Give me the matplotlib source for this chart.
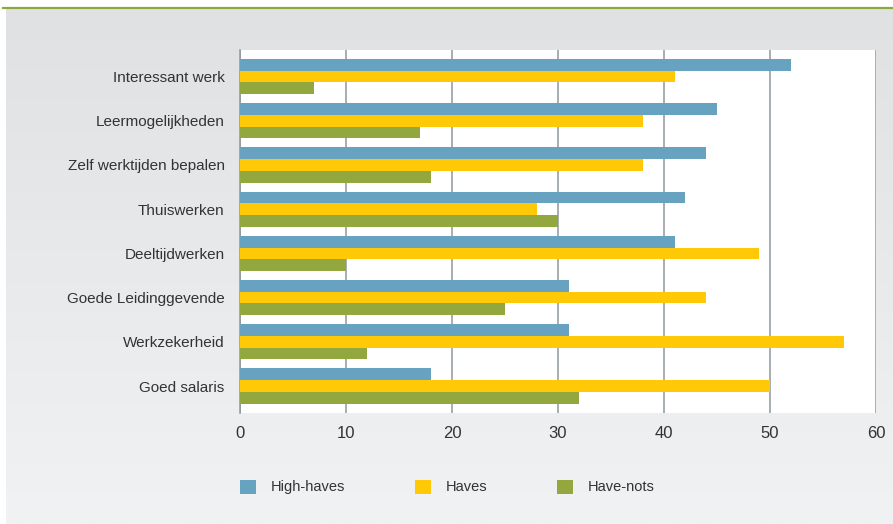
import matplotlib as mpl
mpl.use('Agg')
import matplotlib.pyplot as plt
from matplotlib.lines import Line2D
from matplotlib.patches import Patch
import numpy as np

plt.rcParams['font.family'] = ['Liberation Sans', 'DejaVu Sans']

# Data
categories = ['Interessant werk', 'Leermogelijkheden', 'Zelf werktijden bepalen',
              'Thuiswerken', 'Deeltijdwerken', 'Goede Leidinggevende',
              'Werkzekerheid', 'Goed salaris']
high_haves = [52, 45, 44, 42, 41, 31, 31, 18]
haves = [41, 38, 38, 28, 49, 44, 57, 50]
have_nots = [7, 17, 18, 30, 10, 25, 12, 32]

series_names = ['High-haves', 'Haves', 'Have-nots']
colors = ['#67a2c1', '#ffc908', '#92a83e']
xticks = [0, 10, 20, 30, 40, 50, 60]

text_col = '#333333'
grid_col = '#8e989c'

fig = plt.figure(figsize=(8.93, 5.24), dpi=100)
W, H = 893, 524

# gradient background panel
bg = fig.add_axes([6 / W, 0, 1 - 6 / W, (H - 9) / H])
grad = np.linspace(0, 1, 256).reshape(-1, 1)
bg.imshow(grad, aspect='auto', cmap=mpl.colors.LinearSegmentedColormap.from_list(
    'g', ['#e0e1e2', '#f1f2f4']), extent=[0, 1, 0, 1])
bg.set_axis_off()

# green rule at the top
fig.add_artist(Line2D([3 / W, 1], [1 - 8 / H, 1 - 8 / H], color='#8fa83a', lw=1.6))

ax = fig.add_axes([240 / W, 1 - 413 / H, (876 - 240) / W, (413 - 50) / H])
ax.set_facecolor('white')

y = np.arange(len(categories))
h = 0.265
for k, vals in enumerate([high_haves, haves, have_nots]):
    ax.barh(y + (k - 1) * h, vals, height=h, color=colors[k], zorder=3)

ax.set_xlim(0, 60)
ax.set_ylim(len(categories) - 1 + 0.61, -0.6)
ax.set_xticks(xticks)
ax.set_xticklabels([str(t) for t in xticks], fontsize=12, color=text_col)
ax.tick_params(axis='both', length=0)
ax.set_yticks(y)
ax.set_yticklabels(categories, fontsize=11, color=text_col)
ax.tick_params(axis='x', pad=9)
ax.tick_params(axis='y', pad=11)
ax.grid(axis='x', color=grid_col, lw=1.1, zorder=1)
for s in ['top', 'bottom', 'right']:
    ax.spines[s].set_visible(False)
ax.spines['left'].set_color(grid_col)
ax.spines['left'].set_linewidth(1.1)

handles = [Patch(facecolor=c, edgecolor='none') for c in colors]
fig.legend(handles, series_names, loc='center left',
           bbox_to_anchor=(240 / W, 1 - 487 / H), ncol=3, frameon=False,
           fontsize=10.5, handlelength=1.1, handleheight=1.1,
           handletextpad=1.0, columnspacing=4.8, labelcolor=text_col,
           borderpad=0, borderaxespad=0)

fig.savefig('out.png', dpi=100)
